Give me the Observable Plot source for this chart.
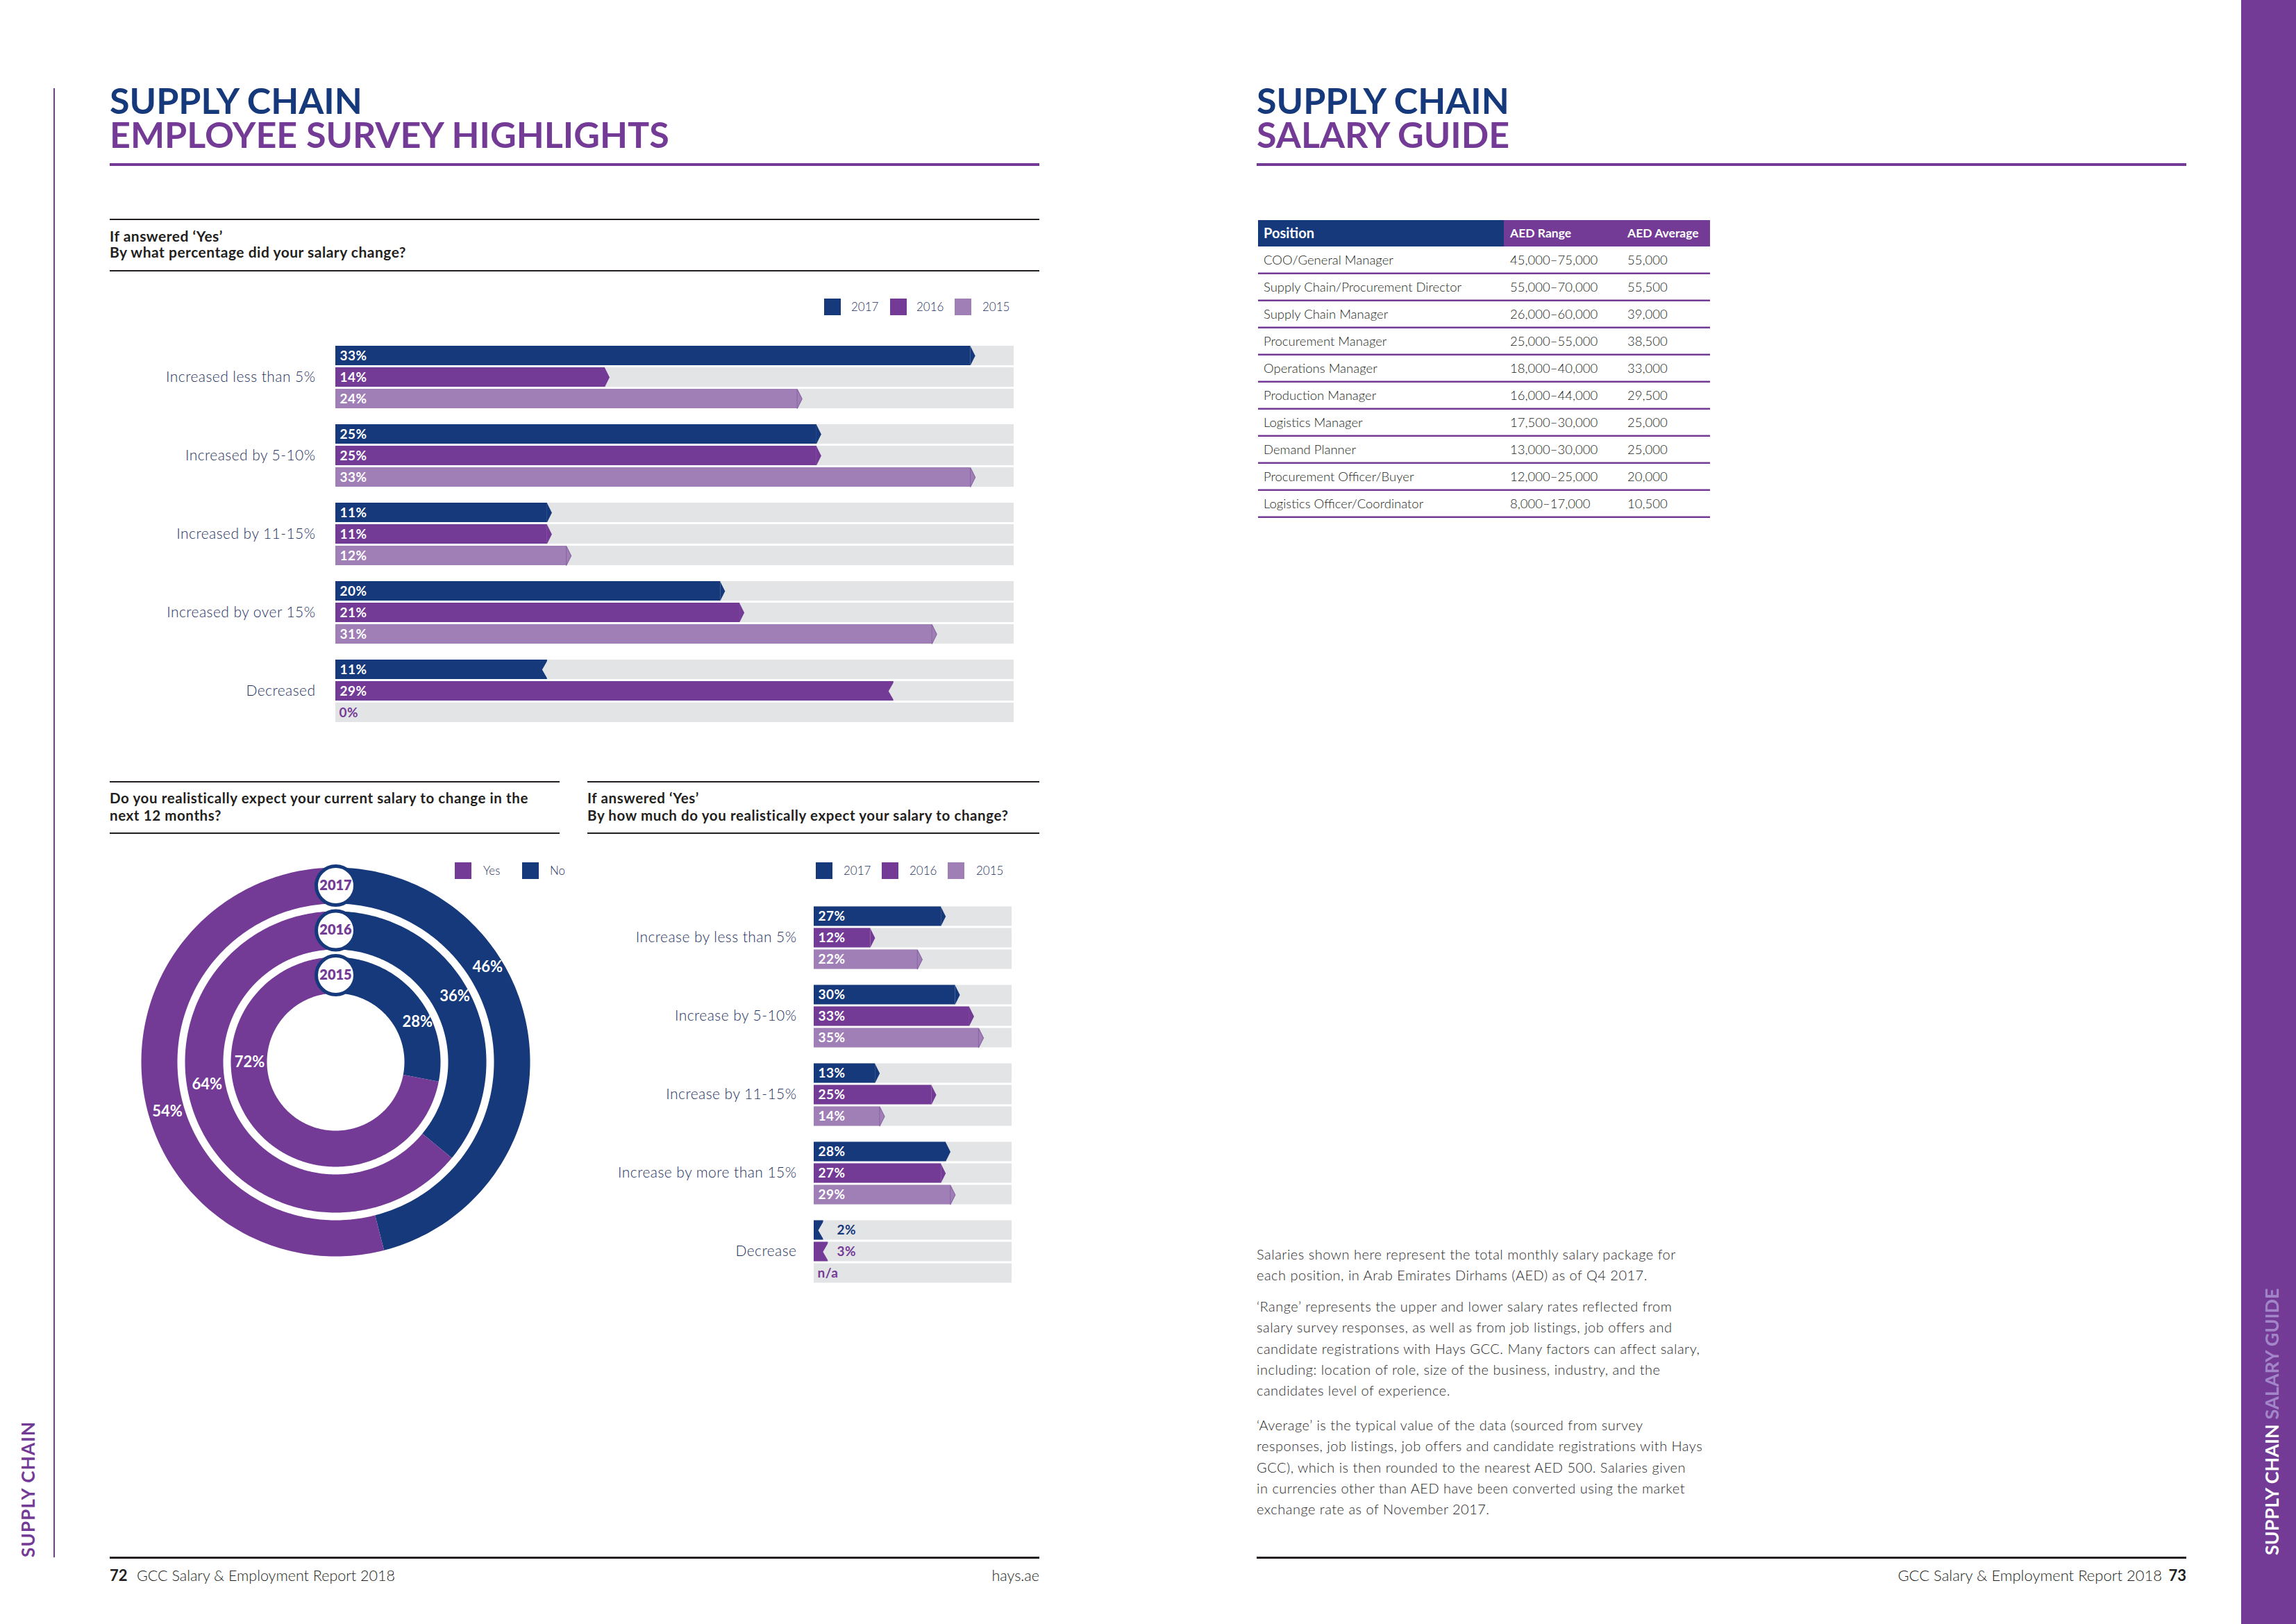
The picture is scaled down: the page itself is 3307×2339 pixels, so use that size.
<!DOCTYPE html>
<html><head><meta charset="utf-8">
<script src="https://cdn.jsdelivr.net/npm/d3@7"></script>
<script src="https://cdn.jsdelivr.net/npm/@observablehq/plot@0.6"></script>
<style>
html,body{margin:0;padding:0;background:#fff;}
#page{position:relative;width:3307px;height:2339px;overflow:hidden;background:#fff;}
#deco{position:absolute;left:0;top:0;}
.plotbox{position:absolute;}
.plotbox svg{overflow:visible;}
.title{position:absolute;line-height:49px;font-size:52px;font-weight:700;white-space:pre;font-family:Lato,'Open Sans',sans-serif;color:#743b96;}
.title::first-line{color:#15397a;}
</style></head><body>
<div id="page"><svg id="deco" width="3307" height="2339"></svg></div>
<script>
// ---------------- DATA ----------------
const years = ["2017", "2016", "2015"];

// Chart 1: If answered 'Yes' – by what percentage did your salary change?
const cats1 = ["Increased less than 5%", "Increased by 5-10%", "Increased by 11-15%", "Increased by over 15%", "Decreased"];
const chg2017 = [33, 25, 11, 20, 11];
const chg2016 = [14, 25, 11, 21, 29];
const chg2015 = [24, 33, 12, 31, 0];

// Chart 2: Do you realistically expect your current salary to change in the next 12 months?
const donutYears = ["2017", "2016", "2015"];
const yesPct = [54, 64, 72];
const noPct = [46, 36, 28];

// Chart 3: If answered 'Yes' – by how much do you expect your salary to change?
const cats2 = ["Increase by less than 5%", "Increase by 5-10%", "Increase by 11-15%", "Increase by more than 15%", "Decrease"];
const exp2017 = [27, 30, 13, 28, 2];
const exp2016 = [12, 33, 25, 27, 3];
const exp2015 = [22, 35, 14, 29, null];

// Salary guide table
const positions = ["COO/General Manager", "Supply Chain/Procurement Director", "Supply Chain Manager", "Procurement Manager", "Operations Manager", "Production Manager", "Logistics Manager", "Demand Planner", "Procurement Officer/Buyer", "Logistics Officer/Coordinator"];
const aedRange = ["45,000–75,000", "55,000–70,000", "26,000–60,000", "25,000–55,000", "18,000–40,000", "16,000–44,000", "17,500–30,000", "13,000–30,000", "12,000–25,000", "8,000–17,000"];
const aedAverage = ["55,000", "55,500", "39,000", "38,500", "33,000", "29,500", "25,000", "25,000", "20,000", "10,500"];

const paragraphs = [
  ["Salaries shown here represent the total monthly salary package for",
   "each position, in Arab Emirates Dirhams (AED) as of Q4 2017."],
  ["\u2018Range\u2019 represents the upper and lower salary rates reflected from",
   "salary survey responses, as well as from job listings, job offers and",
   "candidate registrations with Hays GCC. Many factors can affect salary,",
   "including: location of role, size of the business, industry, and the",
   "candidates level of experience."],
  ["\u2018Average\u2019 is the typical value of the data (sourced from survey",
   "responses, job listings, job offers and candidate registrations with Hays",
   "GCC), which is then rounded to the nearest AED 500. Salaries given",
   "in currencies other than AED have been converted using the market",
   "exchange rate as of November 2017."]
];

// ---------------- STYLE ----------------
const FONT = "Lato, 'Open Sans', sans-serif";
const NAVY = "#15397a";
const PURPLE = "#743b96";
const LILAC = "#a07fb6";
const LILAC_EDGE = "#8a66a6";
const GRAY = "#e3e4e6";
const DARK = "#231f20";
const LABEL = "#1f3260";

// ---------------- DECORATION ----------------
const page = document.getElementById("page");
const deco = d3.select("#deco");
function txt(x, y, s, o = {}) {
  const t = deco.append("text").attr("x", x).attr("y", y)
    .attr("font-family", FONT).attr("font-size", o.size || 20)
    .attr("font-weight", o.weight || 400).attr("fill", o.fill || DARK)
    .attr("text-anchor", o.anchor || "start").text(s);
  if (o.ls) t.attr("letter-spacing", o.ls);
  if (o.transform) t.attr("transform", o.transform).attr("x", 0).attr("y", 0);
  return t;
}
function title(x, l1, l2) {
  // one two-line block, baselines at 165 and 214 (line box 49px); first line navy via ::first-line
  const d = document.createElement("div");
  d.className = "title";
  d.style.left = x + "px";
  d.style.top = "120.4px";
  d.textContent = l1 + "\n" + l2;
  page.appendChild(d);
}
function rect(x, y, w, h, fill) { deco.append("rect").attr("x", x).attr("y", y).attr("width", w).attr("height", h).attr("fill", fill); }

// left page
rect(77, 127, 2, 2116, PURPLE);
txt(0, 0, "SUPPLY CHAIN", {size: 26, weight: 700, fill: PURPLE, ls: 1.2, transform: "translate(50,2243) rotate(-90)"});
title(158, "SUPPLY CHAIN", "EMPLOYEE SURVEY HIGHLIGHTS");
rect(158, 235, 1339, 4, PURPLE);
rect(158, 315, 1339, 2, DARK);
rect(158, 389, 1339, 2, DARK);
txt(158, 348, "If answered \u2018Yes\u2019", {size: 21, weight: 700, ls: 0.5});
txt(158, 371, "By what percentage did your salary change?", {size: 21, weight: 700, ls: 0.5});

function legend(items, y) {
  items.forEach(([x, tx, color, label]) => {
    rect(x, y, 24, 24, color);
    txt(tx, y + 18, label, {size: 17, weight: 300, fill: LABEL});
  });
}
legend([[1187, 1226, NAVY, years[0]], [1282, 1320, PURPLE, years[1]], [1375, 1415, LILAC, years[2]]], 430);

rect(158, 1125, 648, 2, DARK);
rect(158, 1199, 648, 2, DARK);
txt(158, 1157, "Do you realistically expect your current salary to change in the", {size: 20.5, weight: 700, ls: 0.6});
txt(158, 1182, "next 12 months?", {size: 20.5, weight: 700, ls: 0.6});
legend([[655, 696, PURPLE, "Yes"], [752, 792, NAVY, "No"]], 1242);

rect(846, 1125, 651, 2, DARK);
rect(846, 1199, 651, 2, DARK);
txt(846, 1157, "If answered \u2018Yes\u2019", {size: 20.5, weight: 700, ls: 0.6});
txt(846, 1182, "By how much do you realistically expect your salary to change?", {size: 20.5, weight: 700, ls: 0.6});
legend([[1175, 1215, NAVY, years[0]], [1270, 1310, PURPLE, years[1]], [1365, 1406, LILAC, years[2]]], 1242);

rect(158, 2242, 1339, 3, DARK);
txt(158, 2277, "72", {size: 22, weight: 700});
txt(197, 2277, "GCC Salary & Employment Report 2018", {size: 21.5, weight: 300});
txt(1497, 2277, "hays.ae", {size: 21.5, weight: 300, anchor: "end"});

// right page
title(1810, "SUPPLY CHAIN", "SALARY GUIDE");
rect(1810, 235, 1339, 4, PURPLE);

// table
rect(1812, 317, 354, 38, NAVY);
rect(2166, 317, 297, 38, PURPLE);
txt(1820, 343, "Position", {size: 20, weight: 700, fill: "#fff"});
txt(2175, 342, "AED Range", {size: 17.5, weight: 700, fill: "#fff"});
txt(2344, 342, "AED Average", {size: 17.5, weight: 700, fill: "#fff"});
positions.forEach((p, i) => {
  const yc = 355 + 39 * i + 19.5;
  txt(1820, yc + 6, p, {size: 18.5, weight: 300, fill: DARK});
  txt(2175, yc + 6, aedRange[i], {size: 18.5, weight: 300, fill: DARK});
  txt(2344, yc + 6, aedAverage[i], {size: 18.5, weight: 300, fill: DARK});
  rect(1812, 355 + 39 * (i + 1) - 1.5, 651, 2.5, PURPLE);
});

// paragraphs
const pBase = [1814, 1889, 2060];
paragraphs.forEach((lines, k) => lines.forEach((l, j) => txt(1810, pBase[k] + j * 30.3, l, {size: 20, weight: 300, fill: "#2a2a2a", ls: 0.5})));

rect(1810, 2242, 1339, 3, DARK);
txt(3149, 2277, "73", {size: 22, weight: 700, anchor: "end"});
txt(3114, 2277, "GCC Salary & Employment Report 2018", {size: 22, weight: 300, anchor: "end"});

// sidebar
rect(3228, 0, 79, 2339, PURPLE);
const side = deco.append("text").attr("transform", "translate(3282,2240) rotate(-90)")
  .attr("font-family", FONT).attr("font-size", 27).attr("font-weight", 700);
side.append("tspan").attr("fill", "#fff").text("SUPPLY CHAIN ");
side.append("tspan").attr("fill", "#a386c9").text("SALARY GUIDE");

// ---------------- PLOT HELPERS ----------------
function place(node, left, top) {
  const div = document.createElement("div");
  div.className = "plotbox";
  div.style.left = left + "px";
  div.style.top = top + "px";
  div.appendChild(node);
  page.appendChild(div);
}

const TIP = {draw(ctx, size) { const h = Math.sqrt(size / Math.PI); ctx.moveTo(-0.5, -h); ctx.lineTo(6.5, 0); ctx.lineTo(-0.5, h); ctx.closePath(); }};
const NOTCH = {draw(ctx, size) { const h = Math.sqrt(size / Math.PI); ctx.moveTo(0.6, -h); ctx.lineTo(-7.5, 0); ctx.lineTo(0.6, h); ctx.closePath(); }};

function barChart({cats, s17, s16, s15, xmax, left, top, x0, x1, y0, tickPadding, decreaseCat}) {
  const rows = [];
  cats.forEach((c, i) => {
    [[years[0], s17[i]], [years[1], s16[i]], [years[2], s15[i]]].forEach(([yr, v]) =>
      rows.push({cat: c, year: yr, value: v, dec: c === decreaseCat}));
  });
  const pxPer = (x1 - x0) / xmax;
  const marginLeft = x0 - left, marginTop = y0 - top, marginRight = 20, marginBottom = 14;
  const width = x1 - left + marginRight;
  const height = marginTop + 545.8 + marginBottom;
  const valid = rows.filter(d => d.value != null && d.value > 0);
  const lab = d => d.value == null ? "n/a" : d.value + "%";
  const inside = rows.filter(d => d.value != null && d.value * pxPer >= 40);
  const outside = rows.filter(d => d.value != null && d.value > 0 && d.value * pxPer < 40);
  const empty = rows.filter(d => d.value == null || d.value === 0);
  const common = {y: "year", fy: "cat"};
  return Plot.plot({
    width, height, marginLeft, marginTop, marginRight, marginBottom,
    style: {fontFamily: FONT, fontSize: "21px", fontWeight: 300, letterSpacing: "0.45px", color: LABEL, background: "transparent", overflow: "visible"},
    x: {domain: [0, xmax], axis: null},
    y: {domain: years, axis: null, paddingInner: 0.111, paddingOuter: 0},
    fy: {domain: cats, paddingInner: 0.2, paddingOuter: 0, axis: "left", tickSize: 0, tickPadding, label: null},
    color: {domain: years, range: [NAVY, PURPLE, LILAC]},
    marks: [
      Plot.barX(rows, {...common, x1: 0, x2: xmax, fill: GRAY}),
      Plot.barX(valid, {...common, x1: 0, x2: "value", fill: "year"}),
      Plot.dot(valid.filter(d => !d.dec && d.year !== years[2]), {...common, x: "value", fill: "year", symbol: TIP, r: 14}),
      Plot.dot(valid.filter(d => !d.dec && d.year === years[2]), {...common, x: "value", fill: "year", symbol: TIP, r: 14, stroke: LILAC_EDGE, strokeWidth: 1.2}),
      Plot.dot(valid.filter(d => d.dec), {...common, x: "value", fill: GRAY, symbol: NOTCH, r: 14}),
      Plot.text(inside, {...common, x: 0, dx: 6, text: lab, textAnchor: "start", fill: "#fff", fontWeight: 700, fontSize: 19}),
      Plot.text(outside, {...common, x: 0, dx: 33, text: lab, textAnchor: "start", fill: "year", fontWeight: 700, fontSize: 19}),
      Plot.text(empty, {...common, x: 0, dx: 5, text: lab, textAnchor: "start", fill: PURPLE, fontWeight: 700, fontSize: 19})
    ]
  });
}

place(barChart({cats: cats1, s17: chg2017, s16: chg2016, s15: chg2015, xmax: 35.25,
  left: 140, top: 470, x0: 483, x1: 1460, y0: 496, tickPadding: 29, decreaseCat: "Decreased"}), 140, 470);

place(barChart({cats: cats2, s17: exp2017, s16: exp2016, s15: exp2015, xmax: 42,
  left: 830, top: 1280, x0: 1172, x1: 1457, y0: 1303.5, tickPadding: 25, decreaseCat: "Decrease"}), 830, 1280);

// ---------------- DONUT ----------------
(function () {
  const SC = 10;              // px per degree of arc distance
  const RMAX = 285;           // px
  const ringR = [[228, 280], [162, 217], [99, 151]];   // per donutYears (outer → inner)
  const noLabel = [[58, 258], [61, 196], [64, 131]];   // [angle, radius]
  const yesLabel = [[253.5, 253], [260, 188], [270, 124]];
  function sector(a0, a1, r0, r1, props) {
    const n = Math.max(2, Math.ceil(Math.abs(a1 - a0)));
    const c = [];
    for (let i = 0; i <= n; i++) { const a = a0 + (a1 - a0) * i / n; c.push([180 - a, 90 - r1 / SC]); }
    for (let i = n; i >= 0; i--) { const a = a0 + (a1 - a0) * i / n; c.push([180 - a, 90 - r0 / SC]); }
    c.push(c[0].slice());
    const f = {type: "Feature", properties: props, geometry: {type: "Polygon", coordinates: [c]}};
    if (d3.geoArea(f) > 2 * Math.PI) c.reverse();
    return f;
  }
  const feats = [];
  const labels = [];
  const badges = [];
  donutYears.forEach((yr, i) => {
    const [r0, r1] = ringR[i];
    const split = noPct[i] / (noPct[i] + yesPct[i]) * 360;
    feats.push(sector(0, split, r0, r1, {answer: "No", year: yr}));
    feats.push(sector(split, 360, r0, r1, {answer: "Yes", year: yr}));
    labels.push({t: noPct[i] + "%", a: noLabel[i][0], r: noLabel[i][1]});
    labels.push({t: yesPct[i] + "%", a: yesLabel[i][0], r: yesLabel[i][1]});
    badges.push({year: yr, r: (r0 + r1) / 2});
  });
  const chart = Plot.plot({
    width: 2 * RMAX, height: 2 * RMAX, margin: 0,
    style: {fontFamily: FONT, background: "transparent", overflow: "visible"},
    projection: {type: "azimuthal-equidistant", rotate: [0, -90], domain: d3.geoCircle().center([0, 90]).radius(RMAX / SC)()},
    color: {domain: ["Yes", "No"], range: [PURPLE, NAVY]},
    marks: [
      Plot.geo(feats, {fill: d => d.properties.answer}),
      Plot.dot(badges, {x: 180, y: d => 90 - d.r / SC, r: 28, fill: "#fff", stroke: NAVY, strokeWidth: 5}),
      Plot.text(badges, {x: 180, y: d => 90 - d.r / SC, text: "year", fill: PURPLE, fontWeight: 800, fontSize: 20}),
      Plot.text(labels, {x: d => 180 - d.a, y: d => 90 - d.r / SC, text: "t", fill: "#fff", fontWeight: 700, fontSize: 22})
    ]
  });
  place(chart, 483 - RMAX, 1529 - RMAX);
})();
</script>
</body></html>
